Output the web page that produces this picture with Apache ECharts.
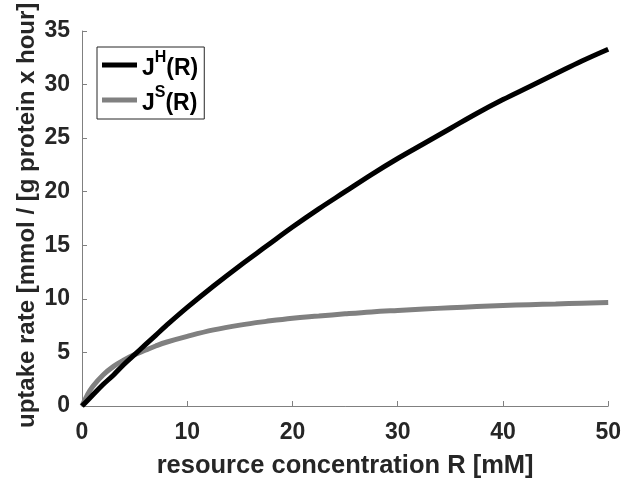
<!DOCTYPE html>
<html>
<head>
<meta charset="utf-8">
<script src="https://cdn.jsdelivr.net/npm/echarts@6/dist/echarts.min.js"></script>
<style>
html,body{margin:0;padding:0;background:#fff;}
#chart{width:624px;height:484px;}
</style>
</head>
<body>
<div id="chart"></div>
<script>
// Data
var resourceR = [0, 0.5, 1, 2, 3, 4, 5, 6, 7, 8, 10, 12.5, 15, 17.5, 20, 22.5, 25, 27.5, 30, 32.5, 35, 37.5, 40, 42.5, 45, 47.5, 50];
var uptakeJH  = [0, 0.5, 1.0, 2.0, 2.9, 3.9, 4.8, 5.7, 6.6, 7.5, 9.2, 11.2, 13.1, 14.9, 16.7, 18.4, 20.0, 21.6, 23.1, 24.5, 25.9, 27.3, 28.6, 29.8, 31.0, 32.2, 33.3];
var uptakeJS  = [0, 1.0, 1.8, 2.9, 3.7, 4.3, 4.8, 5.2, 5.6, 5.95, 6.5, 7.1, 7.55, 7.9, 8.2, 8.4, 8.6, 8.78, 8.92, 9.05, 9.17, 9.28, 9.38, 9.46, 9.53, 9.6, 9.66];
var seriesNames = ['JH', 'JS'];
var xTitle = 'resource concentration R [mM]';
var yTitle = 'uptake rate [mmol / [g protein x hour]';

function pairs(xs, ys) { return xs.map(function (x, i) { return [x, ys[i]]; }); }

var FONT = '"Liberation Sans", Arial, sans-serif';
var TXT = '#262626';
var AX = '#808080';

var chart = echarts.init(document.getElementById('chart'), null, {renderer: 'canvas'});
chart.setOption({
  animation: false,
  backgroundColor: '#ffffff',
  grid: {left: 82, right: 14, top: 31, bottom: 75, containLabel: false},
  xAxis: {
    type: 'value', min: 0, max: 50, interval: 10,
    name: xTitle, nameLocation: 'middle', nameGap: 47,
    nameTextStyle: {fontFamily: FONT, fontWeight: 'bold', fontSize: 25.5, color: TXT},
    axisLine: {show: true, lineStyle: {color: AX, width: 1}},
    axisTick: {show: true, inside: true, length: 5, lineStyle: {color: AX}},
    axisLabel: {margin: 15, fontFamily: FONT, fontWeight: 'bold', fontSize: 23, color: TXT},
    splitLine: {show: false}
  },
  yAxis: {
    type: 'value', min: 0, max: 35, interval: 5,
    axisLine: {show: true, lineStyle: {color: AX, width: 1}},
    axisTick: {show: true, inside: true, length: 5, lineStyle: {color: AX}},
    axisLabel: {margin: 12, fontFamily: FONT, fontWeight: 'bold', fontSize: 23, color: TXT},
    splitLine: {show: false}
  },
  legend: {
    orient: 'vertical', left: 97, top: 47,
    padding: [3, 6, 4, 5],
    itemGap: 5, itemWidth: 35, itemHeight: 5, icon: 'rect',
    borderColor: '#262626', borderWidth: 1, backgroundColor: '#ffffff',
    data: seriesNames,
    formatter: function (n) {
      return n === 'JH' ? '{b|J}{s|H}{b|(R)}' : '{b|J}{s|S}{b|(R)}';
    },
    textStyle: {
      rich: {
        b: {fontFamily: FONT, fontWeight: 'bold', fontSize: 23, color: '#000', lineHeight: 30, verticalAlign: 'bottom'},
        s: {fontFamily: FONT, fontWeight: 'bold', fontSize: 16, color: '#000', lineHeight: 30, verticalAlign: 'top', padding: [0, 0, 8, 0]}
      }
    }
  },
  graphic: [{
    type: 'text', x: 27, y: 428, rotation: Math.PI / 2,
    style: {
      text: yTitle, font: 'bold 24px ' + FONT, fill: TXT,
      align: 'left', verticalAlign: 'middle', textAlign: 'left', textVerticalAlign: 'middle'
    }
  }],
  series: [
    {name: 'JH', type: 'line', data: pairs(resourceR, uptakeJH), smooth: 0.4, showSymbol: false, symbol: 'none',
     lineStyle: {color: '#000000', width: 5}, itemStyle: {color: '#000000'}, z: 3},
    {name: 'JS', type: 'line', data: pairs(resourceR, uptakeJS), smooth: 0.4, showSymbol: false, symbol: 'none',
     lineStyle: {color: '#808080', width: 5}, itemStyle: {color: '#808080'}, z: 2}
  ]
});
</script>
</body>
</html>
